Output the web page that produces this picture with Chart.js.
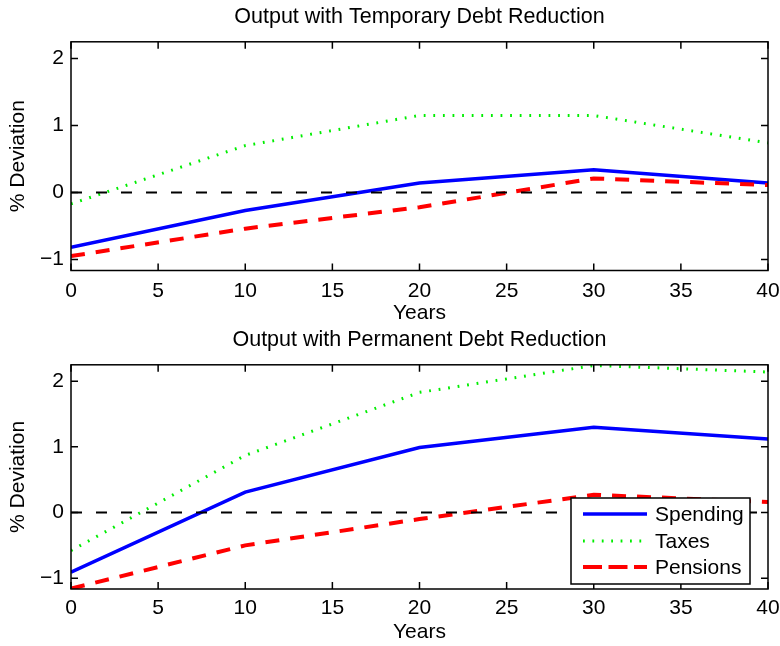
<!DOCTYPE html>
<html>
<head>
<meta charset="utf-8">
<title>Output with Debt Reduction</title>
<script src="https://cdn.jsdelivr.net/npm/chart.js@4"></script>
<style>
  html, body { margin: 0; padding: 0; background: #fff; }
  #wrap { position: relative; width: 780px; height: 646px; }
  canvas { position: absolute; left: 0; }
</style>
</head>
<body>
<div id="wrap">
  <canvas id="top" width="780" height="323" style="top:0"></canvas>
  <canvas id="bottom" width="780" height="323" style="top:323px"></canvas>
</div>
<script>
/* data */
var years = [0, 10, 20, 30, 40];
var zeroYears = [0, 40];
var zeroLine = [0, 0];

var tempSpending = [-0.82, -0.27, 0.14, 0.34, 0.14];
var tempTaxes    = [-0.17, 0.70, 1.15, 1.15, 0.74];
var tempPensions = [-0.95, -0.54, -0.22, 0.21, 0.11];

var permSpending = [-0.91, 0.31, 0.99, 1.30, 1.12];
var permTaxes    = [-0.58, 0.87, 1.83, 2.24, 2.14];
var permPensions = [-1.16, -0.50, -0.10, 0.27, 0.16];

var xTicks = [0, 5, 10, 15, 20, 25, 30, 35, 40];
var yTicks = [-1, 0, 1, 2];
var seriesNames = ['Spending', 'Taxes', 'Pensions'];

var FONT = '"Liberation Sans", Arial, Helvetica, sans-serif';
var FS = 21;
Chart.defaults.font.family = FONT;
Chart.defaults.color = '#000';

/* the legend swatches render with a slightly different dash than the plot */
var legendDash = [[], [1.8, 7.6], [19, 6.5]];

function pts(xs, ys) {
  return xs.map(function (x, i) { return { x: x, y: ys[i] }; });
}

/* MATLAB style box with inward ticks, plus optional legend */
var framePlugin = {
  id: 'frame',
  afterDatasetsDraw: function (chart, args, opts) {
    var ctx = chart.ctx, a = chart.chartArea;
    var xs = chart.scales.x, ys = chart.scales.y;
    var tl = 7;
    ctx.save();
    ctx.strokeStyle = '#000';
    ctx.lineWidth = 1.5;
    ctx.setLineDash([]);
    ctx.beginPath();
    xTicks.forEach(function (v) {
      var px = xs.getPixelForValue(v);
      ctx.moveTo(px, a.bottom); ctx.lineTo(px, a.bottom - tl);
      ctx.moveTo(px, a.top); ctx.lineTo(px, a.top + tl);
    });
    yTicks.forEach(function (v) {
      var py = ys.getPixelForValue(v);
      ctx.moveTo(a.left, py); ctx.lineTo(a.left + tl, py);
      ctx.moveTo(a.right, py); ctx.lineTo(a.right - tl, py);
    });
    ctx.stroke();
    ctx.strokeRect(a.left, a.top, a.right - a.left, a.bottom - a.top);

    if (opts.legend) {
      var bx = 571, by = 175, bw = 179, bh = 86;
      ctx.fillStyle = '#fff';
      ctx.fillRect(bx, by, bw, bh);
      ctx.lineWidth = 1.5;
      ctx.strokeRect(bx, by, bw, bh);
      var rows = [191, 218, 244];
      ctx.font = FS + 'px ' + FONT;
      ctx.textBaseline = 'middle';
      ctx.textAlign = 'left';
      seriesNames.forEach(function (name, i) {
        var ds = chart.data.datasets[i];
        ctx.strokeStyle = ds.borderColor;
        ctx.lineWidth = ds.borderWidth;
        ctx.setLineDash(legendDash[i]);
        ctx.beginPath();
        ctx.moveTo(583, rows[i]);
        ctx.lineTo(647, rows[i]);
        ctx.stroke();
        ctx.fillStyle = '#000';
        ctx.fillText(name, 655, rows[i] + 1);
      });
    }
    ctx.restore();
  }
};

function makeChart(id, title, spending, taxes, pensions, lay) {
  return new Chart(document.getElementById(id), {
    type: 'line',
    data: {
      datasets: [
        { label: seriesNames[0], data: pts(years, spending), borderColor: '#0000ff', borderWidth: 3.5, order: 3 },
        { label: seriesNames[1], data: pts(years, taxes), borderColor: '#00ee00', borderWidth: 3, borderDash: [1.8, 7.8], order: 2 },
        { label: seriesNames[2], data: pts(years, pensions), borderColor: '#ff0000', borderWidth: 4, borderDash: [14, 11], order: 1 },
        { label: 'zero', data: pts(zeroYears, zeroLine), borderColor: '#000', borderWidth: 1.8, borderDash: [11, 14], order: 0 }
      ]
    },
    options: {
      responsive: false,
      animation: false,
      events: [],
      elements: {
        point: { radius: 0 },
        line: { tension: 0, borderCapStyle: 'butt', fill: false }
      },
      layout: { padding: { left: 0, right: 12, top: 0, bottom: 0 } },
      plugins: {
        legend: { display: false },
        tooltip: { enabled: false },
        title: {
          display: true,
          text: title,
          fullSize: false,
          font: { size: 21.5, weight: 'normal', lineHeight: 1.2 },
          padding: { top: lay.titleTop, bottom: lay.titleBottom }
        },
        frame: { legend: lay.legend }
      },
      scales: {
        x: {
          type: 'linear',
          min: 0, max: 40,
          grid: { display: false, drawTicks: false },
          border: { display: false },
          ticks: { font: { size: FS }, padding: lay.xPad, maxRotation: 0 },
          afterBuildTicks: function (s) { s.ticks = xTicks.map(function (v) { return { value: v }; }); },
          afterFit: function (s) { s.height = lay.xHeight; s.paddingLeft = 0; s.paddingRight = 0; },
          title: { display: true, text: 'Years', font: { size: FS, lineHeight: 1 }, padding: { top: 0, bottom: lay.yearsPad } }
        },
        y: {
          type: 'linear',
          min: -1.165, max: 2.25,
          grid: { display: false, drawTicks: false },
          border: { display: false },
          ticks: {
            font: { size: FS }, padding: 7,
            callback: function (v) { return v < 0 ? '\u2212' + Math.abs(v) : String(v); }
          },
          afterBuildTicks: function (s) { s.ticks = yTicks.map(function (v) { return { value: v }; }); },
          afterFit: function (s) { s.width = 71; s.paddingTop = 0; s.paddingBottom = 0; },
          title: { display: true, text: '% Deviation', font: { size: FS, lineHeight: 1 }, padding: { top: 8, bottom: 0 } }
        }
      }
    },
    plugins: [framePlugin]
  });
}

makeChart('top', 'Output with Temporary Debt Reduction', tempSpending, tempTaxes, tempPensions,
  { titleTop: 4, titleBottom: 12, xHeight: 52.5, xPad: 8, yearsPad: -1, legend: false });
makeChart('bottom', 'Output with Permanent Debt Reduction', permSpending, permTaxes, permPensions,
  { titleTop: 4, titleBottom: 12, xHeight: 57, xPad: 7, yearsPad: 3, legend: true });
</script>
</body>
</html>
